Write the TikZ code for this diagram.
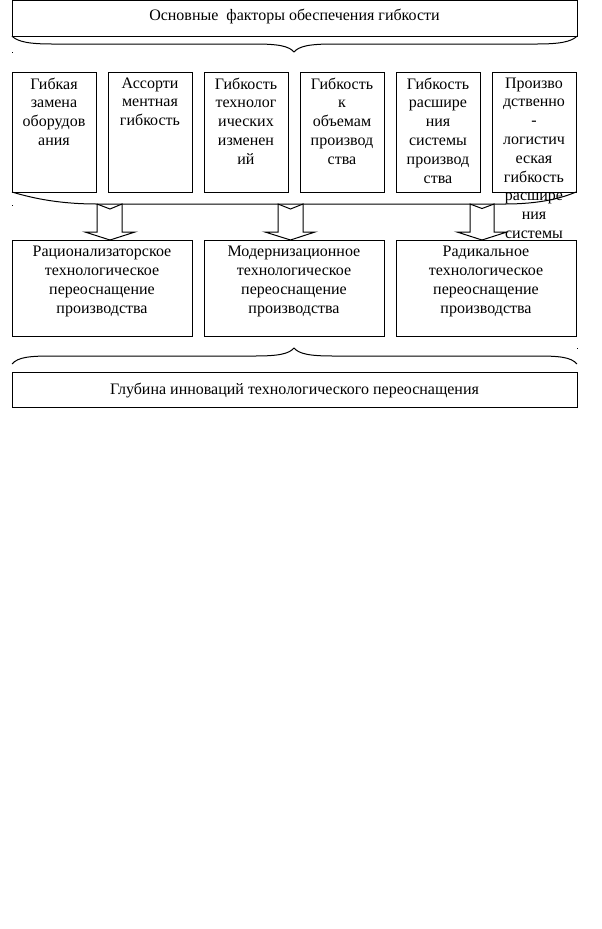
\documentclass[tikz,border=0pt]{standalone}
\usepackage{fontspec}
\setmainfont{Liberation Serif}
\begin{document}
\begin{tikzpicture}[x=0.75pt,y=-0.75pt,line width=0.75pt,
  every node/.style={inner sep=0pt,outer sep=0pt},
  frame/.style={draw,rectangle},
  small/.style={frame,minimum width=63pt,minimum height=90pt},
  wide/.style={frame,minimum width=135pt,minimum height=72pt},
  banner/.style={frame,minimum width=423.75pt,minimum height=26.5pt},
  txt/.style={align=center,anchor=north,font=\fontsize{12}{14.1}\selectfont,execute at begin node={\strut}},
  ltxt/.style={anchor=base,font=\fontsize{12}{14.1}\selectfont},
  notch/.style={draw,fill=white,line join=miter}]
\useasboundingbox (0,0) rectangle (601,929);

% top banner
\node[banner] (top) at (294.5,18.5) {};
\node[ltxt] (toptxt) at (294.5,20.5) {Основные~ факторы обеспечения гибкости};
\draw (top.south west) .. controls (18,42) and (30,44) .. (52,44) -- (255,44)
  .. controls (278,44) and (289,46) .. (294,52)
  .. controls (299,46) and (310,44) .. (333,44) -- (537,44)
  .. controls (559,44) and (571,42) .. (top.south east);

% six factor boxes
\node[small] (f1) at (54,132) {};
\node[small] (f2) at (150,132) {};
\node[small] (f3) at (246,132) {};
\node[small] (f4) at (342,132) {};
\node[small] (f5) at (438,132) {};
\node[small] (f6) at (534,132) {};

% brace under factor boxes
\draw (f1.south west) .. controls (35,199) and (62,204) .. (97,204) -- (505,204)
  .. controls (540,204) and (562,198) .. (f6.south east);

% lower boxes
\node[wide] (la) at (102,288) {};
\node[wide] (lb) at (294,288) {};
\node[wide] (lc) at (486,288) {};

% notched block arrows
\draw[notch] (97,204) -- (110,209) -- (122,204) -- (122,232) -- (135,232) -- (110,240)
  -- (85,232) -- (97,232) -- cycle;
\draw[notch] (278,204) -- (290.5,209) -- (303,204) -- (303,232) -- (315,232) -- (290.5,240)
  -- (265,232) -- (278,232) -- cycle;
\draw[notch] (470,204) -- (482,208.5) -- (494,204) -- (494,232) -- (507,232) -- (482,240)
  -- (457,232) -- (470,232) -- cycle;

% texts of factor boxes
\node[txt] (t1) at ([yshift=-4.2pt]f1.north) {Гибкая\\замена\\оборудов\\ания};
\node[txt] (t2) at ([yshift=-4.2pt]f2.north) {Ассорти\\ментная\\гибкость};
\node[txt] (t3) at ([yshift=-4.2pt]f3.north) {Гибкость\\технолог\\ических\\изменен\\ий};
\node[txt] (t4) at ([yshift=-4.2pt]f4.north) {Гибкость\\к\\объемам\\производ\\ства};
\node[txt] (t5) at ([yshift=-4.2pt]f5.north) {Гибкость\\расшире\\ния\\системы\\производ\\ства};
\node[txt] (t6) at ([yshift=-4.2pt]f6.north) {Произво\\дственно\\-\\логистич\\еская\\гибкость\\расшире\\ния\\системы};

% texts of lower boxes
\node[txt] (ta) at ([yshift=-4.8pt]la.north) {Рационализаторское\\технологическое\\переоснащение\\производства};
\node[txt] (tb) at ([yshift=-4.8pt]lb.north) {Модернизационное\\технологическое\\переоснащение\\производства};
\node[txt] (tc) at ([yshift=-4.8pt]lc.north) {Радикальное\\технологическое\\переоснащение\\производства};

% bottom brace and banner
\node[banner] (bot) at (294.5,390) {};
\draw (12,364) .. controls (18,357) and (30,356) .. (52,356) -- (255,356)
  .. controls (278,356) and (289,354) .. (294,348)
  .. controls (299,354) and (310,356) .. (333,356) -- (537,356)
  .. controls (559,356) and (571,357) .. (577,364);
\node[ltxt] (bottxt) at (294.5,394.5) {Глубина инноваций технологического переоснащения};

% small stray dots
\fill (11.5,51.5) rectangle (12.8,52.8);
\fill (11.5,204.5) rectangle (12.8,205.8);
\fill (576.5,347.5) rectangle (577.8,348.8);
\end{tikzpicture}
\end{document}
